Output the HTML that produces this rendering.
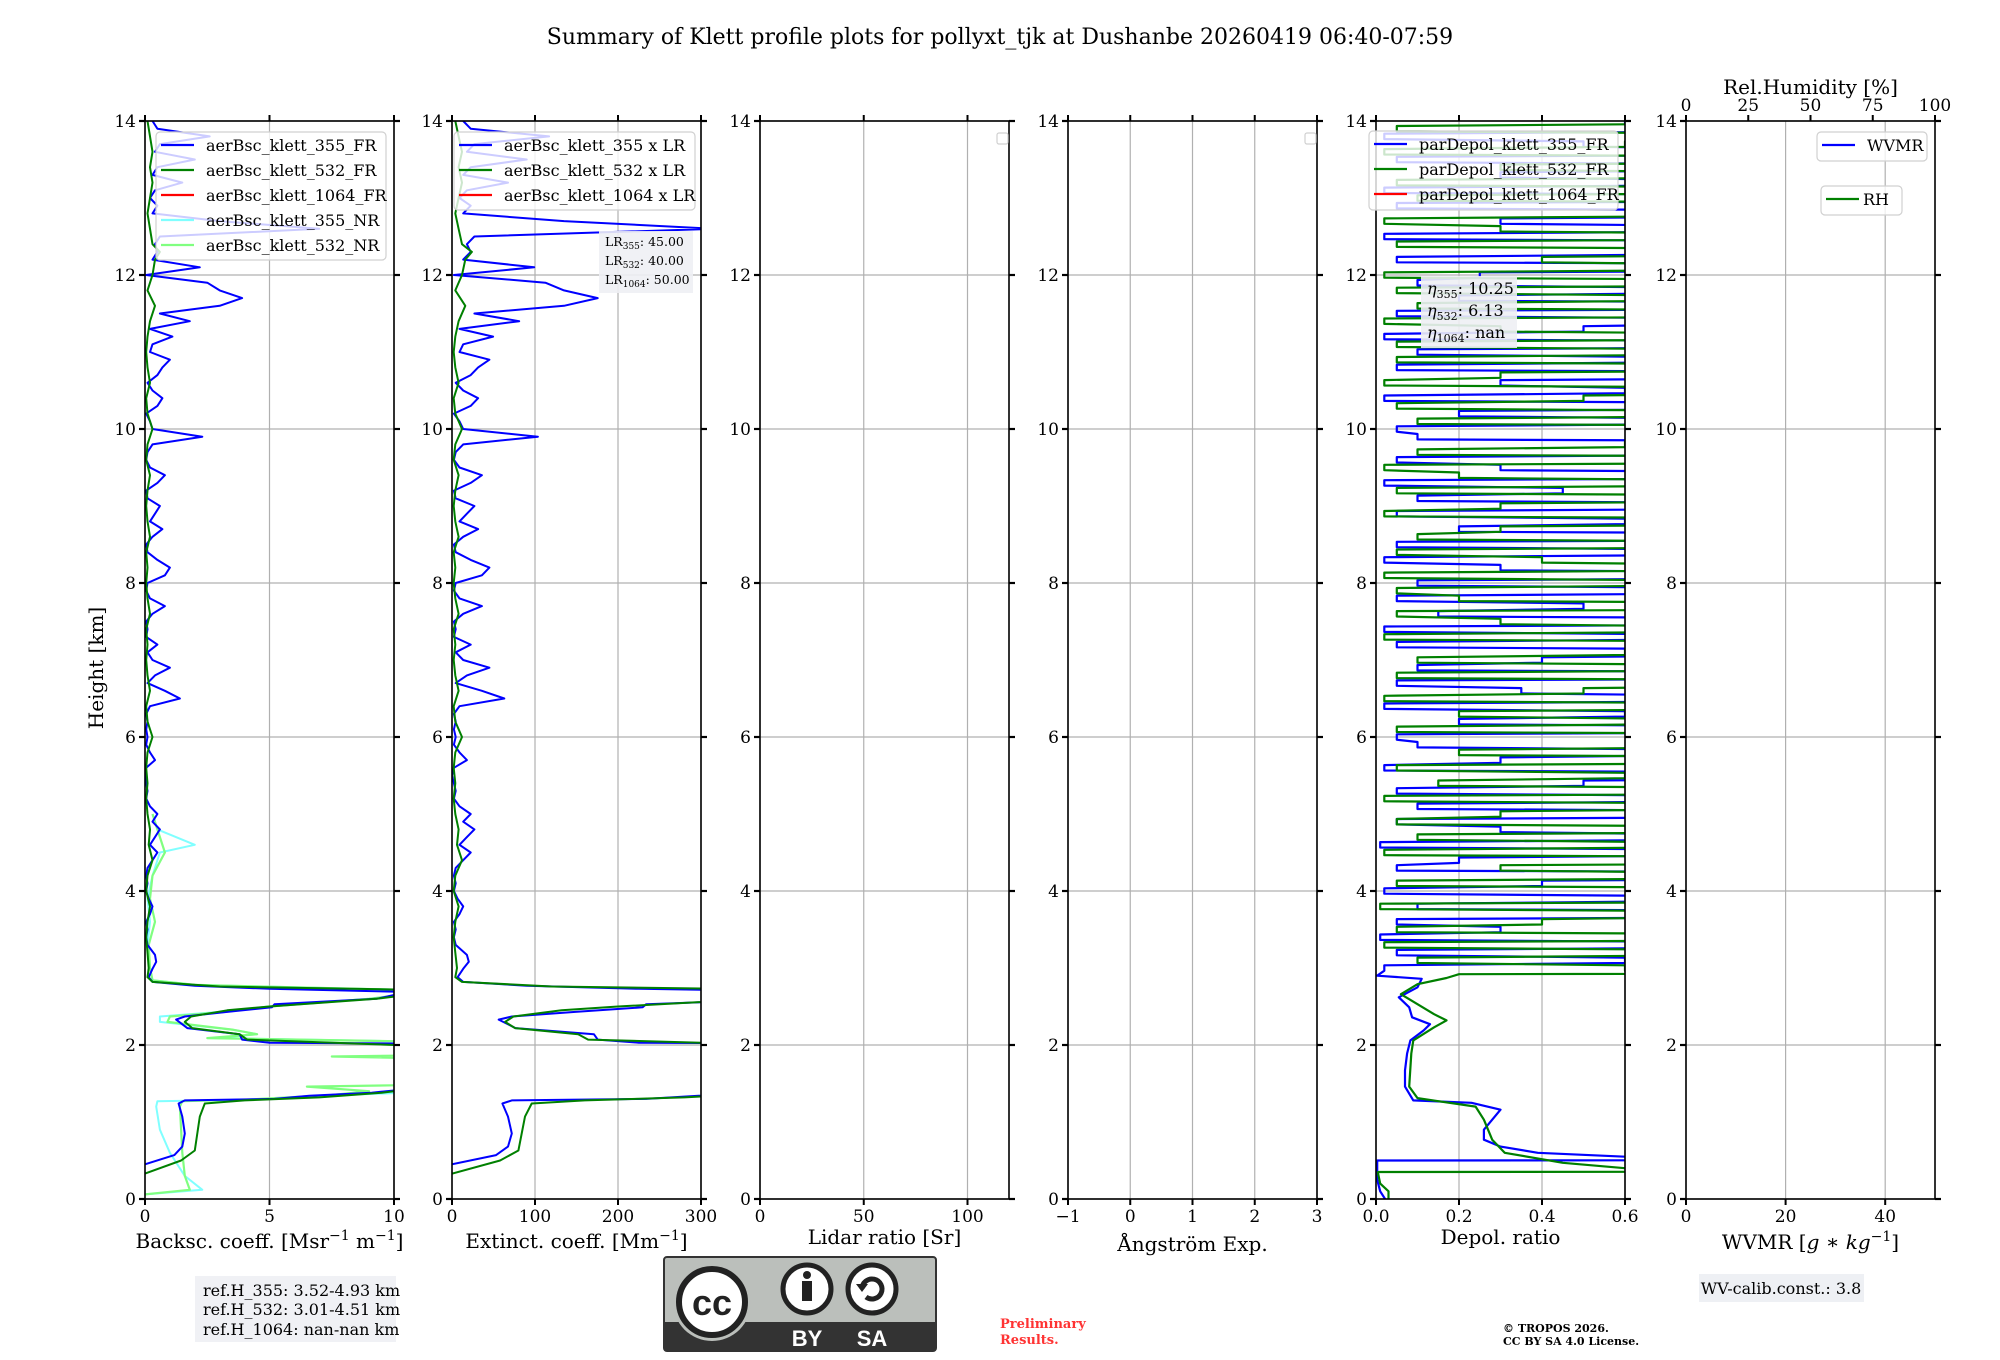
<!DOCTYPE html>
<html><head><meta charset="utf-8">
<style>
html,body{margin:0;padding:0;background:#fff;}
svg{display:block;font-family:"DejaVu Serif","Liberation Serif",serif;}
</style></head>
<body>
<svg id="fig" width="2000" height="1360" viewBox="0 0 2000 1360" xmlns="http://www.w3.org/2000/svg">
<text x="1000" y="44" text-anchor="middle" font-size="22">Summary of Klett profile plots for pollyxt_tjk at Dushanbe 20260419 06:40-07:59</text>
<text transform="translate(103,668) rotate(-90)" text-anchor="middle" font-size="20">Height [km]</text>
<g id="panels"></g>
<g>
<rect x="195" y="1276" width="201" height="66" fill="#eef0f4" opacity="0.9"/>
<text x="203" y="1296" font-size="16">ref.H_355: 3.52-4.93 km</text>
<text x="203" y="1315" font-size="16">ref.H_532: 3.01-4.51 km</text>
<text x="203" y="1335" font-size="16">ref.H_1064: nan-nan km</text>
</g>
<g>
<rect x="664" y="1257" width="272" height="94" rx="3" fill="#bbbfbb" stroke="#333" stroke-width="2"/>
<rect x="665" y="1322" width="270" height="28" fill="#333"/>
<circle cx="712" cy="1302" r="39" fill="#bbbfbb"/>
<circle cx="712" cy="1302" r="33" fill="#fff" stroke="#222" stroke-width="6"/>
<text x="712" y="1315" text-anchor="middle" font-family="Liberation Sans,sans-serif" font-weight="bold" font-size="36" fill="#222">cc</text>
<circle cx="807" cy="1289" r="24" fill="#fff" stroke="#222" stroke-width="5"/>
<circle cx="807" cy="1275" r="4" fill="#222"/>
<rect x="802" y="1281" width="10" height="20" fill="#222"/>
<circle cx="872" cy="1289" r="24" fill="#fff" stroke="#222" stroke-width="5"/>
<path d="M862,1289 a10,10 0 1 1 4,8" fill="none" stroke="#222" stroke-width="5"/>
<path d="M856,1284 l6,8 l6,-8z" fill="#222"/>
<text x="807" y="1346" text-anchor="middle" font-family="Liberation Sans,sans-serif" font-weight="bold" font-size="22" fill="#fff">BY</text>
<text x="872" y="1346" text-anchor="middle" font-family="Liberation Sans,sans-serif" font-weight="bold" font-size="22" fill="#fff">SA</text>
</g>
<text x="1000" y="1328" font-size="13" font-weight="bold" fill="#ff3333">Preliminary</text>
<text x="1000" y="1344" font-size="13" font-weight="bold" fill="#ff3333">Results.</text>
<text x="1503" y="1332" font-size="11" font-weight="bold">© TROPOS 2026.</text>
<text x="1503" y="1345" font-size="11" font-weight="bold">CC BY SA 4.0 License.</text>
<g>
<rect x="1699" y="1274" width="165" height="28" fill="#eef0f4"/>
<text x="1781" y="1294" text-anchor="middle" font-size="16">WV-calib.const.: 3.8</text>
</g>
</svg>
<script>
// ---------------- data ----------------
const bsc355Heights = [0.45,0.57,0.68,0.85,1.07,1.24,1.28,1.30,1.34,1.38,1.42,1.50,1.95,2.02,2.03,2.07,2.14,2.22,2.33,2.37,2.43,2.49,2.53,2.60,2.65,2.69,2.73,2.77,2.82,2.88,2.99,3.08,3.17,3.30,
3.4,3.5,3.6,3.7,3.8,3.9,4.0,4.1,4.2,4.3,4.4,4.5,4.6,4.7,4.8,4.9,5.0,5.1,5.2,5.3,5.4,5.5,5.6,5.7,5.8,5.9,6.0,6.1,6.2,6.3,6.4,6.5,6.6,6.7,6.8,6.9,7.0,7.1,7.2,7.3,7.4,7.5,7.6,7.7,7.8,7.9,8.0,8.1,8.2,8.3,8.4,8.5,8.6,8.7,8.8,8.9,9.0,9.1,9.2,9.3,9.4,9.5,9.6,9.7,9.8,9.9,10.0,10.1,10.2,10.3,10.4,10.5,10.6,10.7,10.8,10.9,11.0,11.1,11.2,11.3,11.4,11.5,11.6,11.7,11.8,11.9,12.0,12.1,12.2,12.3,12.4,12.5,12.6,12.7,12.8,12.9,13.0,13.1,13.2,13.3,13.4,13.5,13.6,13.7,13.8,13.9,14.0];
const bsc355Values = [0,1.18,1.5,1.6,1.5,1.35,1.6,5.2,6.6,9.1,10.3,15,15,10,5,3.9,3.8,1.7,1.25,1.6,3.3,5.1,5.2,9.3,10,10.5,5,2,0.3,0.15,0.3,0.45,0.4,0.1,
0.05,0.1,0.05,0.2,0.3,0.15,0.05,0.1,0.05,0.1,0.3,0.5,0.2,0.4,0.6,0.3,0.5,0.2,0.05,0.1,0.05,0,0.05,0.4,0.2,0.05,0.1,0.05,0.1,0.05,0.2,1.4,0.8,0.1,0.4,1.0,0.3,0.1,0.5,0.05,0.1,0.05,0.3,0.8,0.2,0.05,0.1,0.8,1.0,0.5,0.1,0.05,0.3,0.7,0.2,0.4,0.6,0.1,0.05,0.5,0.8,0.2,0.05,0.1,0.3,2.3,0.3,0.2,0.05,0.5,0.7,0.3,0.1,0.5,0.7,1.0,0.2,0.3,1.1,0.2,1.8,0.6,3.0,3.9,3.0,2.5,0.05,2.2,0.3,0.5,0.4,0.6,7.0,3.0,0.3,0.5,0.2,0.4,1.5,0.3,0.5,2.0,0.4,0.6,2.6,0.5,0.3];
const bsc532Heights = [0.33,0.50,0.63,0.85,1.07,1.24,1.28,1.32,1.38,1.42,1.50,1.95,2.00,2.07,2.14,2.22,2.30,2.37,2.45,2.50,2.60,2.65,2.72,2.76,2.82,2.88,3.0,3.2,
3.4,3.6,3.8,4.0,4.2,4.4,4.6,4.8,5.0,5.2,5.4,5.6,5.8,6.0,6.2,6.4,6.6,6.8,7.0,7.2,7.4,7.6,7.8,8.0,8.2,8.4,8.6,8.8,9.0,9.2,9.4,9.6,9.8,10.0,10.2,10.4,10.6,10.8,11.0,11.2,11.4,11.6,11.8,12.0,12.2,12.3,12.4,12.6,12.8,13.0,13.2,13.4,13.6,13.8,14.0];
const bsc532Values = [0,1.45,2.0,2.1,2.2,2.4,4,7,9.5,10.5,15,15,10,4.1,3.8,1.9,1.6,1.85,3.3,5,9.3,10.5,10.2,3,0.3,0.1,0.15,0.1,
0.05,0.1,0.2,0.05,0.1,0.3,0.15,0.2,0.1,0.05,0.1,0.05,0.1,0.3,0.1,0.05,0.2,0.1,0.05,0.1,0.05,0.2,0.1,0.05,0.1,0.05,0.2,0.1,0.05,0.1,0.2,0.05,0.1,0.3,0.1,0.05,0.2,0.1,0.05,0.1,0.2,0.4,0.1,0.3,0.4,0.6,0.3,0.2,0.1,0.2,0.3,0.2,0.3,0.2,0.1];
const bsc355NRHeights = [0.06,0.12,0.3,0.6,0.9,1.2,1.27,1.29,1.35,1.40,1.50,1.95,2.05,2.09,2.14,2.20,2.30,2.37,2.43,2.50,2.60,2.66,2.72,2.78,2.84,3.0,3.3,3.6,3.9,4.2,4.5,4.6,4.8,5.0];
const bsc355NRValues = [0,2.3,1.6,1.0,0.6,0.45,0.5,4,8,12,15,15,10,3,4.5,3.5,0.6,0.6,3,5,9,10.5,10,2,0.3,0.2,0.1,0.2,0.1,0.3,0.6,2.0,0.5,0.3];
const bsc532NRHeights = [0.06,0.12,0.3,0.6,0.9,1.2,1.27,1.29,1.35,1.40,1.46,1.50,1.80,1.85,1.88,1.95,2.05,2.09,2.14,2.20,2.30,2.37,2.43,2.50,2.60,2.66,2.72,2.78,2.84,3.0,3.3,3.6,3.9,4.2,4.5,4.8,5.0];
const bsc532NRValues = [0,1.8,1.6,1.5,1.45,1.4,1.5,4,7.5,9,6.5,15,15,7.5,15,15,10,2.5,4.5,3.5,0.9,1.0,3.2,5,9,10.5,10,2,0.3,0.2,0.15,0.4,0.2,0.3,0.8,0.5,0.3];
const LR355 = 45, LR532 = 40;
const depolLowHeights355 = [0.0,0.1,0.25,0.45,0.50,0.51,0.55,0.60,0.68,0.77,0.90,1.03,1.16,1.25,1.28,1.46,1.67,1.89,2.06,2.19,2.27,2.36,2.49,2.62,2.75,2.86,2.9];
const depolLowValues355 = [0.022,0.01,0.003,0.003,0.003,2.0,0.6,0.39,0.30,0.26,0.26,0.28,0.30,0.23,0.09,0.07,0.07,0.075,0.083,0.115,0.13,0.087,0.08,0.055,0.10,0.11,0.003];
const depolLowHeights532 = [0.0,0.1,0.2,0.33,0.35,0.36,0.40,0.47,0.60,0.77,1.03,1.20,1.27,1.31,1.46,1.89,2.06,2.23,2.32,2.40,2.53,2.66,2.79,2.87,2.92,2.94];
const depolLowValues532 = [0.03,0.03,0.01,0.005,0.005,2.0,0.6,0.45,0.31,0.28,0.26,0.24,0.15,0.10,0.08,0.085,0.09,0.14,0.17,0.14,0.10,0.06,0.10,0.17,0.20,2.0];
const depolUpHeights = [3.0,3.1,3.2,3.3,3.4,3.5,3.6,3.7,3.8,3.9,4.0,4.1,4.2,4.3,4.4,4.5,4.6,4.7,4.8,4.9,5.0,5.1,5.2,5.3,5.4,5.5,5.6,5.7,5.8,5.9,6.0,6.1,6.2,6.3,6.4,6.5,6.6,6.7,6.8,6.9,7.0,7.1,7.2,7.3,7.4,7.5,7.6,7.7,7.8,7.9,8.0,8.1,8.2,8.3,8.4,8.5,8.6,8.7,8.8,8.9,9.0,9.1,9.2,9.3,9.4,9.5,9.6,9.7,9.8,9.9,10.0,10.1,10.2,10.3,10.4,10.5,10.6,10.7,10.8,10.9,11.0,11.1,11.2,11.3,11.4,11.5,11.6,11.7,11.8,11.9,12.0,12.1,12.2,12.3,12.4,12.5,12.6,12.7,12.8,12.9,13.0,13.1,13.2,13.3,13.4,13.5,13.6,13.7,13.8,13.9,14.0];
const depolUpValues355 = [0.02,0.6,0.05,0.9,0.01,0.3,0.05,1.2,0.1,0.7, 0.02,0.4,1.5,0.05,0.2,0.9,0.01,0.8,0.3,0.05, 1.2,0.1,0.9,0.05,0.5,1.3,0.02,0.3,0.8,0.1, 0.05,1.1,0.2,0.6,0.02,0.9,0.35,0.05,1.4,0.1, 0.4,1.0,0.05,0.7,0.02,1.3,0.15,0.5,0.05,0.9, 0.1,1.2,0.3,0.02,0.8,0.05,1.5,0.2,0.6,0.05, 1.0,0.1,0.45,0.02,1.2,0.3,0.05,0.9,1.4,0.1, 0.05,0.8,0.2,1.1,0.02,0.6,0.3,1.3,0.05,0.7, 0.1,1.2,0.02,0.5,0.9,0.05,1.4,0.2,0.8,0.1, 0.25,1.5,0.05,0.7,1.2,0.02,0.9,0.3,1.1,0.05, 1.3,0.02,0.8,0.3,1.0,0.05,1.2,0.5,0.02,0.9, 0.6];
const depolUpValues532 = [0.6,0.1,0.8,0.02,1.1,0.05,0.4,0.9,0.01,1.3, 1.2,0.05,0.9,0.3,1.4,0.02,0.7,0.1,1.0,0.05, 0.3,0.9,0.02,1.1,0.15,0.6,0.05,1.2,0.2,0.8, 1.3,0.05,0.7,0.2,1.0,0.02,0.5,1.2,0.05,0.9, 0.1,0.6,1.1,0.02,0.8,0.3,0.05,1.4,0.2,0.05, 0.7,0.02,0.9,0.4,0.05,1.0,0.1,0.3,1.2,0.02, 0.3,1.1,0.05,0.9,0.2,0.02,1.3,0.1,0.6,1.0, 1.4,0.1,0.9,0.05,0.5,1.1,0.02,0.3,1.2,0.05, 0.8,0.05,1.0,0.3,0.02,1.3,0.1,0.7,0.05,1.1, 0.02,0.9,0.4,1.2,0.05,1.0,0.3,0.02,0.8,1.3, 0.1,1.1,0.05,0.9,0.3,1.2,0.02,0.6,1.0,0.05, 0.8];
const heightTicks = [0,2,4,6,8,10,12,14];
const rhTicks = [0,25,50,75,100];

// ---------------- layout ----------------
const NS = 'http://www.w3.org/2000/svg';
const Y0 = 1199, Y14 = 121;
const panelLeft = [145,452,760,1068,1376,1686];
const PW = 249;
const sy = h => Y0 + (Y14 - Y0) * h / 14;
const root = document.getElementById('panels');
function el(tag, attrs, parent){
  const e = document.createElementNS(NS, tag);
  for (const k in attrs) e.setAttribute(k, attrs[k]);
  (parent||root).appendChild(e);
  return e;
}
const panelDefs = [
  {name:'backscatter', min:0, max:10, ticks:[0,5,10], labels:['0','5','10'], xlabel:'Backsc. coeff. [Msr<tspan dy="-8" font-size="14">−1</tspan><tspan dy="8"> m</tspan><tspan dy="-8" font-size="14">−1</tspan><tspan dy="8">]</tspan>', ly:1248},
  {name:'extinction', min:0, max:300, ticks:[0,100,200,300], labels:['0','100','200','300'], xlabel:'Extinct. coeff. [Mm<tspan dy="-8" font-size="14">−1</tspan><tspan dy="8">]</tspan>', ly:1248},
  {name:'lidar-ratio', min:0, max:120, ticks:[0,50,100], labels:['0','50','100'], xlabel:'Lidar ratio [Sr]', ly:1244},
  {name:'angstrom', min:-1, max:3, ticks:[-1,0,1,2,3], labels:['−1','0','1','2','3'], xlabel:'Ångström Exp.', ly:1251},
  {name:'depol', min:0, max:0.6, ticks:[0,0.2,0.4,0.6], labels:['0.0','0.2','0.4','0.6'], xlabel:'Depol. ratio', ly:1244},
  {name:'wvmr', min:0, max:50, ticks:[0,20,40], labels:['0','20','40'], xlabel:'WVMR [<tspan font-style="italic">g</tspan> ∗ <tspan font-style="italic">kg</tspan><tspan dy="-8" font-size="14">−1</tspan><tspan dy="8">]</tspan>', ly:1249}
];
const defs = el('defs', {});
panelDefs.forEach((p,i)=>{
  const L = panelLeft[i];
  const sx = v => L + PW * (v - p.min) / (p.max - p.min);
  const g = el('g', {});
  
  
  const cp = el('clipPath', {id:'clip'+i}, defs);
  el('rect', {x:L, y:Y14, width:PW, height:Y0-Y14}, cp);
  p.ticks.forEach(t=>{
    const gl = el('line', {x1:sx(t), x2:sx(t), y1:Y14, y2:Y0, stroke:'#b0b0b0', 'stroke-width':1.2}, g);
    
    
  });
  heightTicks.forEach(h=>{
    const gl = el('line', {x1:L, x2:L+PW, y1:sy(h), y2:sy(h), stroke:'#b0b0b0', 'stroke-width':1.2}, g);
    
    
  });
  p.g = g; p.L = L; p.sx = sx;
});

function drawLine(i, hs, vs, color, width, nm, hold){
  const p = panelDefs[i];
  const pts = [];
  hs.forEach((h,k)=>{
    const x = p.sx(vs[k]).toFixed(1);
    if (hold && h >= 2.95) {
      pts.push(x+','+sy(h-hold).toFixed(1));
      pts.push(x+','+sy(h+hold).toFixed(1));
    } else pts.push(x+','+sy(h).toFixed(1));
  });
  const pl = el('polyline', {points:pts.join(' '), fill:'none', stroke:color, 'stroke-width':width, 'stroke-linejoin':'round', 'clip-path':'url(#clip'+i+')'}, p.g);
  
  
}
drawLine(0, bsc355NRHeights, bsc355NRValues, '#80ffff', 2, 'line-bsc-355-nr');
drawLine(0, bsc532NRHeights, bsc532NRValues, '#80ff80', 2.2, 'line-bsc-532-nr');
drawLine(0, bsc355Heights, bsc355Values, '#0000ff', 2, 'line-bsc-355-fr');
drawLine(0, bsc532Heights, bsc532Values, '#008000', 2, 'line-bsc-532-fr');
drawLine(1, bsc355Heights, bsc355Values.map(v=>v*LR355), '#0000ff', 2, 'line-ext-355');
drawLine(1, bsc532Heights, bsc532Values.map(v=>v*LR532), '#008000', 2, 'line-ext-532');
drawLine(4, depolLowHeights355.concat(depolUpHeights), depolLowValues355.concat(depolUpValues355), '#0000ff', 2.2, 'line-depol-355', 0.035);
drawLine(4, depolLowHeights532.concat(depolUpHeights), depolLowValues532.concat(depolUpValues532), '#008000', 2.2, 'line-depol-532', 0.035);

panelDefs.forEach((p,i)=>{
  const g = p.g, L = p.L, sx = p.sx;
  el('rect', {x:L, y:Y14, width:PW, height:Y0-Y14, fill:'none', stroke:'#000', 'stroke-width':1.6}, g);
  p.ticks.forEach((t,k)=>{
    el('line', {x1:sx(t), x2:sx(t), y1:Y0, y2:Y0+6, stroke:'#000', 'stroke-width':2}, g);
    if (i !== 5) el('line', {x1:sx(t), x2:sx(t), y1:Y14, y2:Y14-6, stroke:'#000', 'stroke-width':2}, g);
    const tl = el('text', {x:sx(t), y:Y0+23, 'text-anchor':'middle', 'font-size':17}, g);
    tl.textContent = p.labels[k];
    
    
  });
  heightTicks.forEach(h=>{
    el('line', {x1:L-6, x2:L, y1:sy(h), y2:sy(h), stroke:'#000', 'stroke-width':2.2}, g);
    el('line', {x1:L+PW, x2:L+PW+6, y1:sy(h), y2:sy(h), stroke:'#000', 'stroke-width':2.2}, g);
    const tl = el('text', {x:L-9, y:sy(h)+6, 'text-anchor':'end', 'font-size':17}, g);
    tl.textContent = String(h);
    
    
  });
  const xl = el('text', {x:L+PW/2, y:p.ly, 'text-anchor':'middle', 'font-size':20}, g);
  xl.innerHTML = p.xlabel;
  
  
});
{
  const g = panelDefs[5].g, L = panelLeft[5];
  const sxr = v => L + PW * v / 100;
  rhTicks.forEach(t=>{
    el('line', {x1:sxr(t), x2:sxr(t), y1:Y14, y2:Y14-6, stroke:'#000', 'stroke-width':2}, g);
    const tl = el('text', {x:sxr(t), y:111, 'text-anchor':'middle', 'font-size':17}, g);
    tl.textContent = String(t);
    
    
  });
  const t = el('text', {x:L+PW/2, y:94, 'text-anchor':'middle', 'font-size':20}, g);
  t.textContent = 'Rel.Humidity [%]';
  
  
}

function legend(x, y, w, h, entries, nm, lineX, textX){
  const g = el('g', {});
  
  
  el('rect', {x:x, y:y, width:w, height:h, rx:4, fill:'#fff', 'fill-opacity':0.8, stroke:'#d0d0d0', 'stroke-width':1.2}, g);
  entries.forEach((e,k)=>{
    const cy = y + 13 + k*25;
    el('line', {x1:x+lineX, x2:x+lineX+33, y1:cy, y2:cy, stroke:e[1], 'stroke-width':2.2}, g);
    const t = el('text', {x:x+textX, y:cy+6, 'font-size':16}, g);
    t.textContent = e[0];
    
    
  });
}
legend(156, 132, 230, 128, [['aerBsc_klett_355_FR','#0000ff'],['aerBsc_klett_532_FR','#008000'],['aerBsc_klett_1064_FR','#ff0000'],['aerBsc_klett_355_NR','#80ffff'],['aerBsc_klett_532_NR','#80ff80']], 'backscatter-legend', 5, 50);
legend(454, 132, 241, 78, [['aerBsc_klett_355 x LR','#0000ff'],['aerBsc_klett_532 x LR','#008000'],['aerBsc_klett_1064 x LR','#ff0000']], 'extinction-legend', 5, 50);
legend(1369, 131, 249, 79, [['parDepol_klett_355_FR','#0000ff'],['parDepol_klett_532_FR','#008000'],['parDepol_klett_1064_FR','#ff0000']], 'depol-legend', 5, 50);
legend(1817, 132, 110, 29, [['WVMR','#0000ff']], 'wvmr-legend', 5, 50);
legend(1821, 186, 81, 29, [['RH','#008000']], 'rh-legend', 5, 42);
[997,1305].forEach(x=>{
  const r = el('rect', {x:x, y:133, width:11, height:11, rx:2, fill:'#fff', stroke:'#d0d0d0', 'stroke-width':1.2});
  
  
});
function infoBox(x, y, w, h, lines, fs, nm, step, first){
  const g = el('g', {});
  
  
  el('rect', {x:x, y:y, width:w, height:h, fill:'#eef0f4', 'fill-opacity':0.9}, g);
  lines.forEach((l,k)=>{
    const t = el('text', {x:x+6, y:y+first+k*step, 'font-size':fs}, g);
    t.innerHTML = l;
  });
}
infoBox(599, 231, 94, 62, ['LR<tspan font-size="9" dy="3">355</tspan><tspan dy="-3">: 45.00</tspan>','LR<tspan font-size="9" dy="3">532</tspan><tspan dy="-3">: 40.00</tspan>','LR<tspan font-size="9" dy="3">1064</tspan><tspan dy="-3">: 50.00</tspan>'], 12.5, 'lidar-ratio-info', 19, 15);
infoBox(1421, 276, 96, 72, ['<tspan font-style="italic">η</tspan><tspan font-size="11" dy="4">355</tspan><tspan dy="-4">: 10.25</tspan>','<tspan font-style="italic">η</tspan><tspan font-size="11" dy="4">532</tspan><tspan dy="-4">: 6.13</tspan>','<tspan font-style="italic">η</tspan><tspan font-size="11" dy="4">1064</tspan><tspan dy="-4">: nan</tspan>'], 16, 'eta-info', 22, 18);
</script>
</body></html>
